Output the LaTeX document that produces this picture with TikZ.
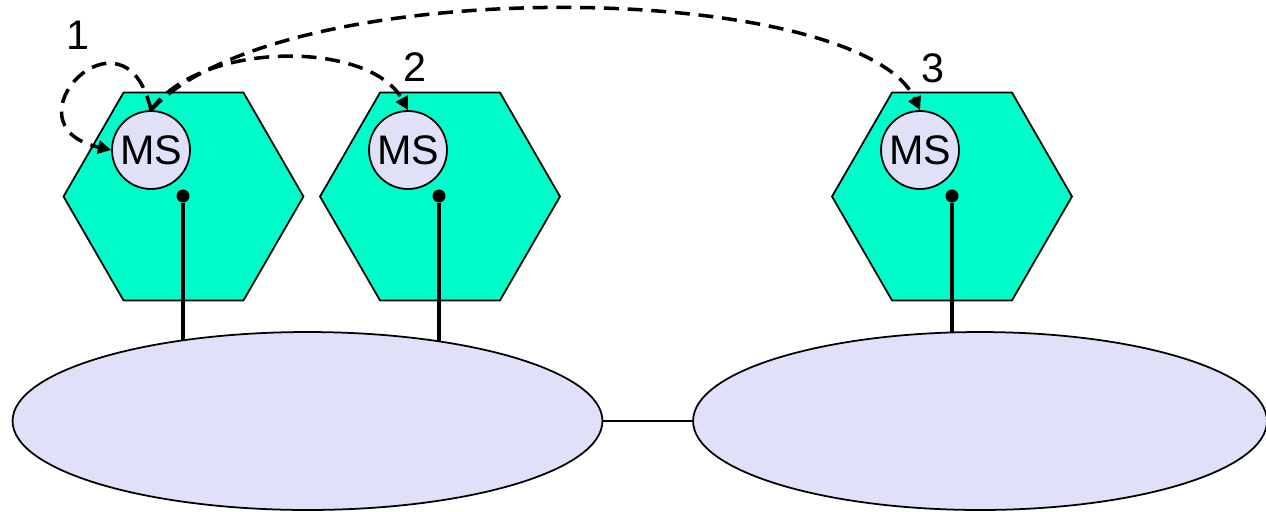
\documentclass[tikz,border=0pt]{standalone}
\usepackage{fontspec}
\setmainfont{Liberation Sans}
\usetikzlibrary{shapes.geometric,arrows.meta}
\definecolor{cellgreen}{RGB}{0,252,200}
\definecolor{lav}{RGB}{224,224,248}
\tikzset{
  cell/.style={regular polygon, regular polygon sides=6, minimum size=4.8cm,
    inner sep=0pt, outer sep=0pt, draw, fill=cellgreen, line width=1pt},
  station/.style={circle, minimum size=1.56cm, inner sep=0pt, draw, fill=lav,
    line width=1pt, font=\fontsize{23.5}{28}\selectfont},
  net/.style={ellipse, inner sep=0pt, draw, fill=lav, line width=1pt,
    minimum height=3.56cm},
  port/.style={circle, fill=black, minimum size=0.26cm, inner sep=0pt},
  wire/.style={line width=2.2pt},
  flow/.style={line width=2pt, dash pattern=on 8.5pt off 5pt,
    -{Triangle[length=7.5pt,width=7.5pt]}},
  tag/.style={font=\fontsize{23.5}{28}\selectfont, inner sep=0pt}
}
\begin{document}
\begin{tikzpicture}[x=0.02cm, y=-0.02cm]
\useasboundingbox (0,0) rectangle (1266,511);

% cells
\node[cell] (h1) at (183.5,196.5) {};
\node[cell] (h2) at (440,196.5) {};
\node[cell] (h3) at (952,196.5) {};

% mobile stations
\node[station] (m1) at (151,150) {MS};
\node[station] (m2) at (408,150) {MS};
\node[station] (m3) at (920,150) {MS};

% attachment points
\node[port] (d1) at (183,196) {};
\node[port] (d2) at (439,196) {};
\node[port] (d3) at (952,196) {};

% network centres
\coordinate (ec1) at (307.5,421);
\coordinate (ec2) at (980,421);

\draw[wire] (d1) -- (d1 |- ec1);
\draw[wire] (d2) -- (d2 |- ec1);
\draw[wire] (d3) -- (d3 |- ec2);

\node[net, minimum width=11.8cm] (e1) at (ec1) {};
\node[net, minimum width=11.48cm] (e2) at (ec2) {};
\draw[line width=1pt] (e1.east) -- (e2.west);

% signalling paths
\draw[flow] (m1.north) .. controls (125,-5) and (0,125) .. (m1.west);
\draw[flow] (m1.north) .. controls (200,40) and (370,40) .. (m2.north);
\draw[flow] (m1.north) .. controls (280,-30) and (860,-20) .. (m3.north);

% labels
\node[tag] (l1) at (78,35) {1};
\node[tag] (l2) at (415,67) {2};
\node[tag] (l3) at (933,68) {3};
\end{tikzpicture}
\end{document}
